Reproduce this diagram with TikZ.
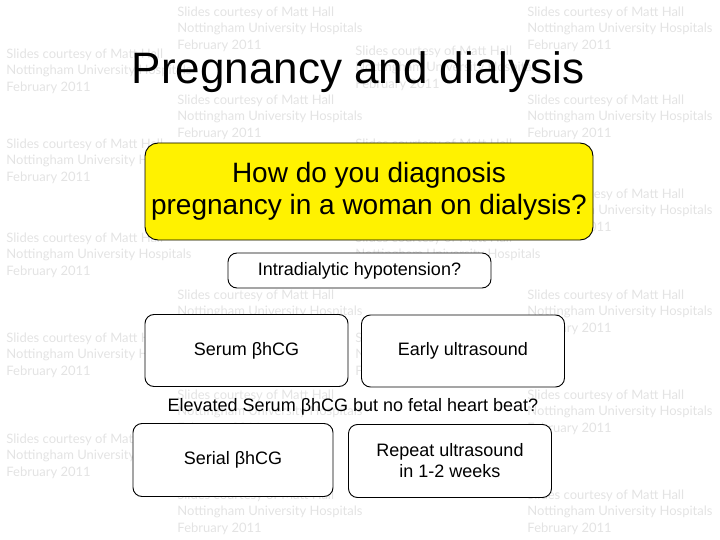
\documentclass[tikz,border=0pt]{standalone}
\usepackage{fontspec}
\setmainfont{Liberation Sans}
\newfontfamily\markfont{Lato}

\begin{document}
\begin{tikzpicture}[x=1pt, y=-1pt, line width=0.9pt,
 box node/.style={draw, rounded corners=9pt, fill=white, align=center,
   inner sep=0pt, minimum width=203pt, minimum height=72pt,
   font=\fontsize{18}{21}\selectfont},
 mark node/.style={anchor=north west, align=left, inner sep=0pt,
   text=black!11, font=\markfont\fontsize{13}{16.5}\selectfont}]

  \useasboundingbox (0,0) rectangle (720,540);

  % watermark
  \foreach \x/\y in {177/6, 527/6, 177/94, 527/94, 177/188, 527/188,
    177/289, 527/289, 177/389, 527/389, 177/489, 527/489,
    6/48, 355/45, 6/138, 355/138, 6/232, 355/232, 6/332, 355/332,
    6/433, 355/433} {
   \node[mark node] (m\x-\y) at (\x,\y) {Slides courtesy of Matt Hall\\Nottingham University Hospitals\\February 2011};}

  \node[anchor=base, font=\fontsize{44}{50}\selectfont] (title) at (358,84) {Pregnancy and dialysis};

  \node[box node, fill=yellow, rounded corners=13pt, minimum width=448pt,
    minimum height=97pt, font=\fontsize{28}{32}\selectfont] (question) at (369,191.5)
    {How do you diagnosis\\pregnancy in a woman on dialysis?};

  \node[box node, minimum width=263pt, minimum height=35pt] (hypo) at (359.5,270.5) {Intradialytic hypotension?};
  \node[box node] (serum) at (246.5,350.5) {Serum βhCG};
  \node[box node] (early) at (463,351) {Early ultrasound};

  \node[font=\fontsize{18}{21}\selectfont] (elevated) at (353,407) {Elevated Serum βhCG but no fetal heart beat?};

  \node[box node, minimum width=200pt, minimum height=73pt] (serial) at (233,460) {Serial βhCG};
  \node[box node, minimum height=73pt] (repeat) at (450,461) {Repeat ultrasound\\in 1-2 weeks};
\end{tikzpicture}
\end{document}
